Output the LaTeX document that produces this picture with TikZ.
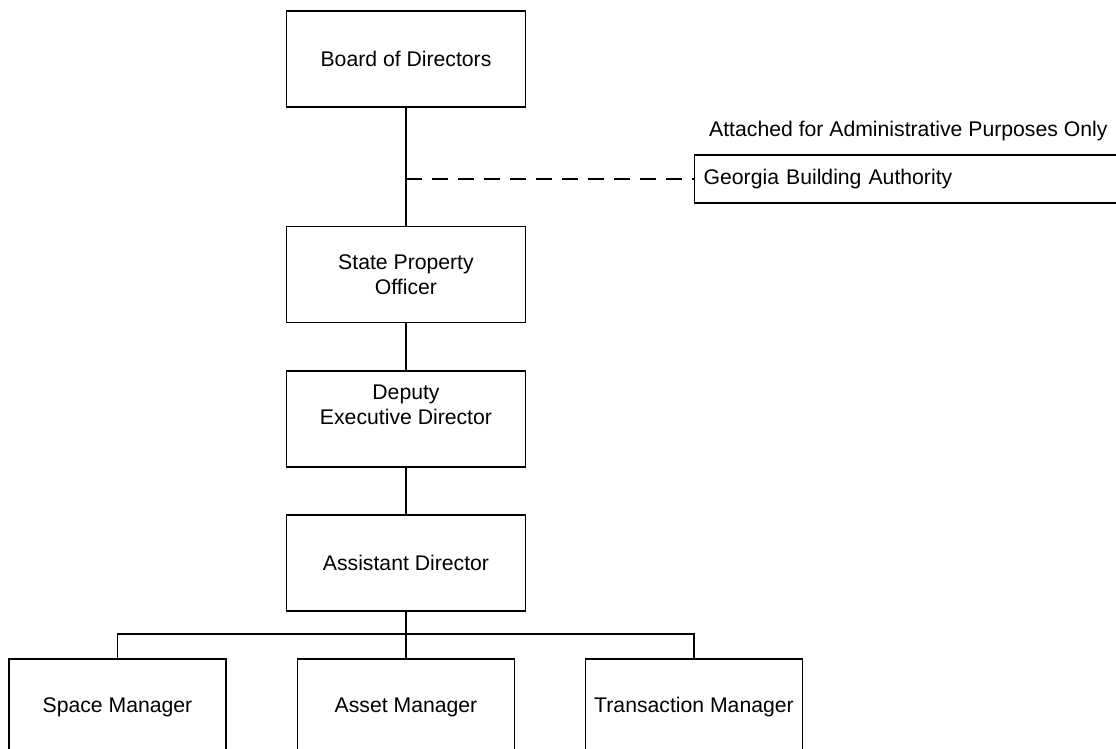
\documentclass[tikz,border=0pt]{standalone}
\usepackage{fontspec}
\setmainfont{Liberation Sans}
\usetikzlibrary{positioning}

\tikzset{
    post/.style={draw, line width=1.3pt, minimum width=239pt, minimum height=96pt, inner sep=0pt, align=center},
    staff/.style={post, minimum width=217pt},
    posttext/.style={align=center, inner sep=0pt},
    link/.style={line width=1.3pt},
    attached/.style={link, dash pattern=on 16pt off 10pt}
}

\begin{document}
\begin{tikzpicture}[x=1pt, y=-1pt, font=\fontsize{21.2}{25}\selectfont]

\useasboundingbox (0,0) rectangle (1116,748);
\clip (0,0) rectangle (1116,748);

\node[post] (board) at (406, 59) {Board of Directors};
\node[post] (spo) at (406, 274.5) {State Property\\Officer};
\node[post] (ded) at (406, 419) {};
\node[posttext] (dedtext) at ([yshift=14pt]ded.center) {Deputy\\Executive Director};
\node[post] (ad) at (406, 563) {Assistant Director};

\node[staff] (space) at (117.5, 707) {Space Manager};
\node[staff] (asset) at (406, 707) {Asset Manager};
\node[staff] (trans) at (694, 707) {Transaction Manager};

\node[draw, line width=1.3pt, anchor=west, minimum height=48pt, minimum width=480pt,
      text width=462pt, inner xsep=9pt, inner ysep=0pt, align=left] (gba) at (694, 179) {Georgia Building Authority};
\node[anchor=west, inner sep=0pt] (gbanote) at (709, 131) {Attached for Administrative Purposes Only};

\coordinate (bus) at (406, 634);

\draw[link] (board) -- (spo);
\draw[link] (spo) -- (ded);
\draw[link] (ded) -- (ad);
\draw[link] (ad) -- (bus);
\draw[link] (bus) -- (asset);
\draw[link] (space.north) |- (bus) -| (trans.north);
\draw[attached] (board.south |- gba.west) -- (gba.west);

\end{tikzpicture}
\end{document}
